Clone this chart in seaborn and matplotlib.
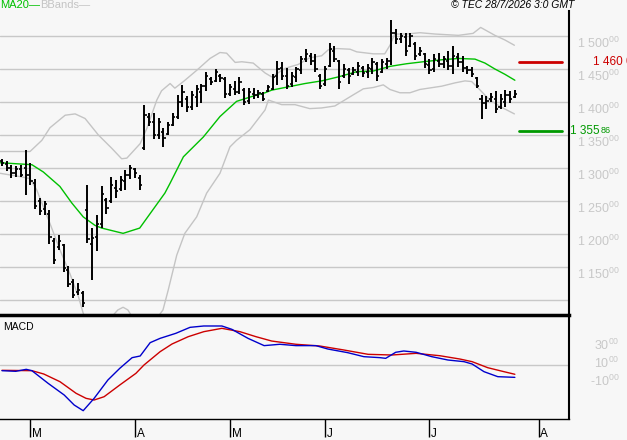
import numpy as np
import seaborn as sns
import matplotlib.pyplot as plt
from matplotlib.transforms import blended_transform_factory

# Set plot style and frame
sns.set_theme(style="white")
plt.rcParams['font.family'] = ['Liberation Sans', 'DejaVu Sans']
plt.rcParams['mathtext.default'] = 'regular'

bg = '#f7f7f7'
grid_col = '#c8c8c8'
green = '#00c000'

# Daily OHLC bars (trading days)
highs = [1313, 1311, 1304, 1303, 1304, 1328, 1307, 1283, 1255, 1250, 1236, 1194, 1199, 1185, 1151, 1132, 1126, 1113,
         1274, 1209, 1229, 1273, 1255, 1286, 1282, 1288, 1297, 1305, 1300, 1289,
         1395, 1383, 1383, 1376, 1361, 1370, 1383, 1410, 1426, 1409, 1416, 1426, 1428, 1445, 1438, 1450, 1442, 1438,
         1428, 1432, 1438, 1421, 1421, 1421, 1418, 1415, 1426, 1442, 1462, 1461, 1451, 1446, 1453, 1470, 1480, 1474,
         1472, 1443, 1455, 1490, 1485, 1464, 1457, 1452, 1453, 1460, 1455, 1458, 1466, 1460, 1465, 1466, 1525, 1510,
         1504, 1505, 1505, 1491, 1484, 1474, 1465, 1473, 1475, 1469, 1478, 1485, 1474, 1469, 1455, 1453, 1438, 1411,
         1409, 1414, 1416, 1412, 1418, 1416, 1418]
lows = [1303, 1296, 1285, 1287, 1286, 1259, 1274, 1238, 1229, 1229, 1185, 1155, 1176, 1143, 1120, 1103, 1108, 1090,
        1187, 1130, 1175, 1209, 1230, 1247, 1255, 1265, 1267, 1283, 1285, 1267,
        1327, 1363, 1344, 1344, 1332, 1350, 1363, 1375, 1393, 1385, 1388, 1393, 1399, 1416, 1426, 1431, 1431, 1406,
        1409, 1411, 1412, 1395, 1397, 1405, 1406, 1401, 1415, 1418, 1426, 1433, 1420, 1423, 1431, 1443, 1461, 1456,
        1445, 1420, 1425, 1453, 1461, 1420, 1437, 1427, 1441, 1439, 1438, 1436, 1442, 1432, 1444, 1450, 1456, 1488,
        1489, 1470, 1484, 1464, 1469, 1451, 1443, 1446, 1453, 1451, 1449, 1442, 1453, 1446, 1443, 1438, 1421, 1375,
        1389, 1400, 1383, 1390, 1393, 1399, 1406]
opens = [1310, 1306, 1300, 1292, 1298, 1300, 1290, 1278, 1250, 1238, 1230, 1190, 1180, 1183, 1145, 1128, 1112, 1110,
         1236, 1185, 1195, 1215, 1252, 1250, 1270, 1268, 1280, 1290, 1298, 1285,
         1330, 1378, 1370, 1350, 1355, 1352, 1365, 1378, 1400, 1405, 1392, 1408, 1415, 1425, 1435, 1432, 1440, 1435,
         1412, 1420, 1415, 1418, 1402, 1412, 1410, 1412, 1416, 1420, 1440, 1452, 1440, 1428, 1438, 1448, 1465, 1470,
         1462, 1440, 1428, 1455, 1478, 1462, 1440, 1448, 1442, 1445, 1452, 1445, 1450, 1458, 1446, 1458, 1462, 1505,
         1495, 1498, 1485, 1488, 1472, 1472, 1456, 1450, 1462, 1458, 1462, 1455, 1468, 1460, 1452, 1448, 1436, 1405,
         1398, 1404, 1405, 1392, 1400, 1410, 1408]
closes = [1307, 1300, 1292, 1298, 1290, 1290, 1280, 1242, 1235, 1245, 1195, 1160, 1190, 1148, 1125, 1108, 1115, 1095,
          1193, 1194, 1215, 1260, 1240, 1275, 1265, 1282, 1290, 1300, 1292, 1275,
          1380, 1370, 1350, 1370, 1345, 1365, 1378, 1400, 1415, 1392, 1410, 1420, 1425, 1440, 1430, 1445, 1436, 1412,
          1422, 1415, 1430, 1400, 1415, 1410, 1414, 1405, 1422, 1438, 1450, 1440, 1425, 1440, 1450, 1465, 1472, 1462,
          1450, 1425, 1450, 1480, 1465, 1430, 1450, 1440, 1448, 1455, 1444, 1452, 1460, 1440, 1460, 1462, 1505, 1495,
          1500, 1478, 1500, 1470, 1478, 1458, 1448, 1465, 1458, 1465, 1455, 1470, 1460, 1452, 1448, 1442, 1425, 1398,
          1402, 1408, 1390, 1405, 1410, 1405, 1412]

# Indicators (x = trading-day index)
ma_x = [-0.4, 6.3, 8.7, 12.2, 14.7, 17.1, 19.6, 21.0, 25.5, 29.0, 31.5, 34.3, 35.4, 38.2, 42.4, 45.9, 49.4, 52.9,
        55.4, 56.8, 60.3, 63.8, 67.3, 70.8, 74.7, 78.2, 81.7, 85.2, 88.7, 92.6, 96.1, 99.6, 101.7, 103.8, 105.9, 108.0]
ma_y = [1308, 1305, 1294, 1272, 1247, 1226, 1213, 1209, 1201, 1209, 1234, 1262, 1277, 1317, 1347, 1378, 1401, 1409,
        1414, 1418, 1423, 1428, 1432, 1438, 1446, 1447, 1454, 1458, 1461, 1464, 1466, 1465, 1459, 1450, 1442, 1433]

up_x = [-0.4, 5.9, 8.4, 10.1, 13.3, 15.4, 17.5, 20.3, 23.1, 25.2, 26.3, 29.1, 30.5, 32.6, 33.6, 35.4, 36.4, 38.2,
        41.0, 43.8, 45.9, 47.3, 49.1, 50.5, 52.9, 55.4, 56.8, 59.6, 62.4, 64.8, 67.3, 68.7, 70.5, 73.3, 74.7, 78.2,
        80.6, 81.7, 82.7, 85.2, 88.0, 91.2, 96.1, 99.2, 100.8, 103.8, 105.9, 107.9]
up_y = [1325, 1325, 1342, 1361, 1380, 1382, 1375, 1350, 1330, 1314, 1315, 1337, 1360, 1403, 1417, 1428, 1421, 1431,
        1448, 1466, 1475, 1474, 1460, 1461, 1459, 1444, 1438, 1451, 1457, 1467, 1470, 1479, 1481, 1480, 1476, 1473,
        1473, 1486, 1503, 1503, 1505, 1503, 1501, 1504, 1513, 1501, 1494, 1486]

lo_x = [-0.4, 3.8, 5.9, 7.3, 10.1, 12.2, 14.3, 16.1, 17.1, 19.6, 22.3, 24.4, 25.5, 26.5, 29.1, 32.2, 33.9, 35.0,
        36.8, 38.5, 41.0, 43.1, 45.9, 48.0, 49.4, 52.2, 55.4, 56.1, 58.9, 61.7, 64.8, 67.3, 70.1, 74.0, 76.1, 78.2,
        80.3, 81.7, 83.8, 85.9, 88.0, 92.6, 95.4, 97.5, 98.9, 100.3, 102.7, 105.2, 107.9]
lo_y = [1292, 1287, 1284, 1267, 1216, 1176, 1140, 1105, 1080, 1040, 1068, 1085, 1089, 1085, 1055, 1068, 1085, 1115,
        1168, 1201, 1226, 1262, 1292, 1332, 1342, 1358, 1388, 1403, 1396, 1396, 1390, 1391, 1394, 1411, 1420, 1422,
        1426, 1419, 1414, 1414, 1419, 1424, 1429, 1432, 1431, 1421, 1403, 1392, 1382]

macd_x = [0, 2.9, 5.1, 6.3, 9.7, 13.1, 15.2, 17.1, 19.4, 22.3, 24.8, 27.4, 29.1, 31.2, 33.3, 36.6, 39.6, 42.5, 46.3,
          48.4, 51.8, 55.2, 58.5, 61.9, 66.1, 68.6, 72.8, 76.2, 79.6, 80.8, 82.9, 84.6, 87.2, 90.5, 93.9, 97.3, 99.0,
          101.5, 104.4, 108.0]
macd_y = [-630, -700, -480, -630, -2030, -3330, -4440, -5070, -3700, -1665, -370, 815, 1000, 2480, 2960, 3515, 4180,
          4330, 4330, 3960, 2960, 2150, 2300, 2150, 2150, 1776, 1370, 925, 815, 740, 1410, 1555, 1410, 925, 555, 370,
          111, -740, -1295, -1370]
sig_x = [0, 6.3, 8.8, 12.2, 15.6, 17.7, 19.4, 21.5, 24.8, 28.2, 29.9, 33.3, 35.8, 39.2, 42.5, 46.3, 50.1, 53.5, 56.8,
         61.9, 66.9, 72.0, 77.1, 82.1, 87.2, 92.2, 96.4, 99.0, 102.3, 105.7, 108.0]
sig_y = [-590, -630, -1000, -1850, -3140, -3700, -3885, -3520, -2220, -925, 0, 1480, 2330, 3140, 3700, 4070, 3700,
         3140, 2660, 2300, 2110, 1665, 1185, 1110, 1295, 1030, 665, 370, -300, -740, -1030]

# Axis labels and levels
price_grid = [1100, 1150, 1200, 1250, 1300, 1350, 1400, 1450, 1500]
price_labels = ['', '1 150', '1 200', '1 250', '1 300', '1 350', '1 400', '1 450', '1 500']
macd_ticks = [3000, 1000, -1000]
macd_labels = ['30', '10', '-10']
month_idx = [6, 28, 48, 68, 90, 113]
month_labels = ['M', 'A', 'M', 'J', 'J', 'A']
resist = 1460.0
support = 1355.86

fig = plt.figure(figsize=(6.27, 4.40), dpi=100, facecolor=bg)
ax = fig.add_axes([0, 0.2841, 0.9075, 0.6909], facecolor=bg)
ax2 = fig.add_axes([0, 0.0477, 0.9075, 0.2364], facecolor=bg)

days = np.arange(len(highs))

# price panel
ax.grid(axis='y', color=grid_col, lw=1)
ax.set_axisbelow(True)
sns.lineplot(x=up_x, y=up_y, ax=ax, color='#c4c4c4', lw=1)
sns.lineplot(x=lo_x, y=lo_y, ax=ax, color='#c4c4c4', lw=1)
sns.lineplot(x=ma_x, y=ma_y, ax=ax, color=green, lw=1)
ax.vlines(days, lows, highs, color='black', lw=1.4)
ax.hlines(opens, days - 0.45, days, color='black', lw=1.2)
ax.hlines(closes, days, days + 0.45, color='black', lw=1.2)
ax.axhline(resist, xmin=519 / 569, xmax=562 / 569, color='#cc0000', lw=2)
ax.axhline(support, xmin=519 / 569, xmax=562 / 569, color='#009900', lw=2)

ax.set_xlim(-0.42, 119.4)
ax.set_ylim(1077.3, 1537.9)
ax.set_yticks(price_grid)
ax.set_yticklabels([])
ax.tick_params(axis='both', length=0, labelbottom=False, labelleft=False)
ax.set_xticks([])

tr = blended_transform_factory(ax.transAxes, ax.transData)
for v, lab in zip(price_grid, price_labels):
    if lab:
        ax.text(1.014, v, lab + '$^{00}$', transform=tr, ha='left', va='top',
                fontsize=9, color=grid_col, clip_on=False)
ax.text(1.043, resist, '1 460 00', transform=tr, ha='left', va='center',
        fontsize=8.5, color='#cc0000', clip_on=False)
ax.text(1.0015, support, '1 355', transform=tr, ha='left', va='center',
        fontsize=8.5, color='#009900', clip_on=False)
ax.text(1.056, support + 1.5, '86', transform=tr, ha='left', va='center',
        fontsize=6.5, color='#009900', clip_on=False)

for s in ['top', 'left', 'bottom']:
    ax.spines[s].set_visible(False)
ax.spines['right'].set_color('black')
ax.spines['right'].set_linewidth(1.5)

# MACD panel
ax2.axhline(0, color=grid_col, lw=1)
sns.lineplot(x=sig_x, y=sig_y, ax=ax2, color='#cc0000', lw=1)
sns.lineplot(x=macd_x, y=macd_y, ax=ax2, color='#0000cc', lw=1)
ax2.set_xlim(-0.42, 119.4)
ax2.set_ylim(-5994, 5550)
ax2.set_yticks([])
ax2.set_xticks(month_idx)
ax2.set_xticklabels([])
ax2.tick_params(axis='x', bottom=True, direction='out', length=13, width=1, color='black')

tr2 = blended_transform_factory(ax2.transAxes, ax2.transData)
for v, lab in zip(macd_ticks, macd_labels):
    ax2.text(1.089, v, lab + '$^{00}$', transform=tr2, ha='right', va='top',
             fontsize=9, color=grid_col, clip_on=False)
trm = blended_transform_factory(ax2.transData, ax2.transAxes)
for m, lab in zip(month_idx, month_labels):
    ax2.text(m + 0.35, -0.145, lab, transform=trm, ha='left', va='center', fontsize=8.5, color='black')
ax2.text(3 / 569, 0.885, 'MACD', transform=ax2.transAxes, ha='left', va='center', fontsize=7.5, color='black')

ax2.spines['left'].set_visible(False)
ax2.spines['top'].set_color('black')
ax2.spines['top'].set_linewidth(2.5)
ax2.spines['right'].set_color('black')
ax2.spines['right'].set_linewidth(1.5)
ax2.spines['bottom'].set_color('black')
ax2.spines['bottom'].set_linewidth(1)

# header texts
fig.text(0.0, 1 - 5 / 440, 'MA20\u2014', color=green, fontsize=8, ha='left', va='center')
fig.text(40 / 627, 1 - 5 / 440, 'BBands\u2014', color='#c4c4c4', fontsize=8, ha='left', va='center')
fig.text(574 / 627, 1 - 5 / 440, '\u00a9 TEC 28/7/2026 3:0 GMT', color='black', fontsize=7.5,
         style='italic', ha='right', va='center')

plt.savefig('out.png', dpi=100, facecolor=bg)
